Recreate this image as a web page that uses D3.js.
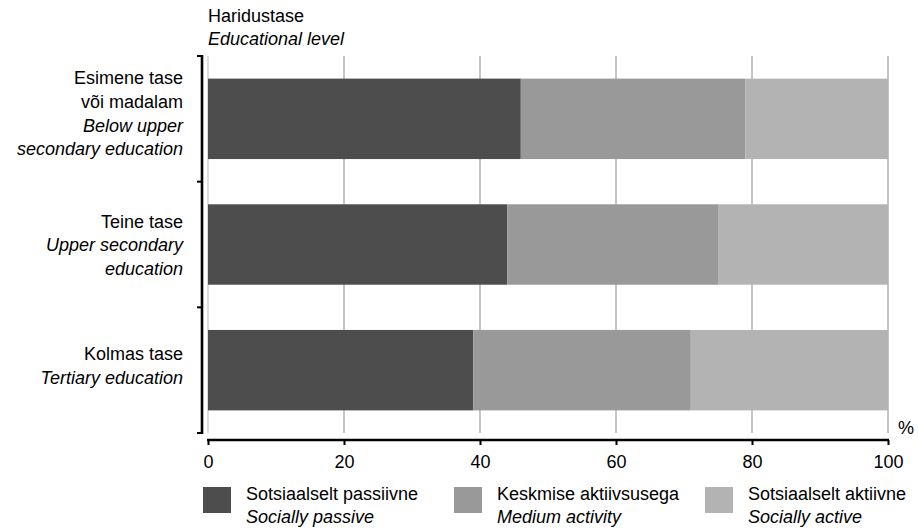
<!DOCTYPE html>
<html>
<head>
<meta charset="utf-8">
<script src="https://cdn.jsdelivr.net/npm/d3@7"></script>
<style>
  html, body { margin: 0; padding: 0; background: #fff; }
  svg { display: block; font-family: "Liberation Sans", Arial, sans-serif; }
</style>
</head>
<body>
<svg id="chart" width="918" height="529"></svg>
<script>
const categories = ["Esimene tase või madalam", "Teine tase", "Kolmas tase"];
const categoryLines = [
  [["Esimene tase", false], ["või madalam", false], ["Below upper", true], ["secondary education", true]],
  [["Teine tase", false], ["Upper secondary", true], ["education", true]],
  [["Kolmas tase", false], ["Tertiary education", true]]
];
const seriesKeys = ["passive", "medium", "active"];
const seriesNamesEt = ["Sotsiaalselt passiivne", "Keskmise aktiivsusega", "Sotsiaalselt aktiivne"];
const seriesNamesEn = ["Socially passive", "Medium activity", "Socially active"];
const seriesColors = ["#4d4d4d", "#999999", "#b3b3b3"];
const passive = [46, 44, 39];
const medium = [33, 31, 32];
const active = [21, 25, 29];
const xTicks = [0, 20, 40, 60, 80, 100];

const table = categories.map((c, i) => ({cat: c, passive: passive[i], medium: medium[i], active: active[i]}));

const svg = d3.select("#chart");
const fs = 18;

const x = d3.scaleLinear().domain([0, 100]).range([208, 888]);
const y = d3.scaleBand().domain(categories).range([56, 433]).paddingInner(0.36).paddingOuter(0.18);

// gridlines
svg.append("g").selectAll("line").data(xTicks).join("line")
  .attr("x1", d => x(d)).attr("x2", d => x(d))
  .attr("y1", 56).attr("y2", 433)
  .attr("stroke", d => d === 0 ? "#cccccc" : "#a8a8a8").attr("stroke-width", 1.3);

// bars
const stack = d3.stack().keys(seriesKeys)(table);
svg.append("g").selectAll("g").data(stack).join("g")
  .attr("fill", (d, i) => seriesColors[i])
  .selectAll("rect").data(d => d).join("rect")
  .attr("x", d => x(d[0]))
  .attr("width", d => x(d[1]) - x(d[0]))
  .attr("y", d => y(d.data.cat))
  .attr("height", y.bandwidth());

// y axis (band boundaries ticks)
const bounds = [56, 56 + (433 - 56) / 3, 56 + 2 * (433 - 56) / 3, 433];
svg.append("line").attr("x1", 202).attr("x2", 202).attr("y1", 55).attr("y2", 434)
  .attr("stroke", "#000").attr("stroke-width", 2.6);
svg.append("g").selectAll("line").data(bounds).join("line")
  .attr("x1", 197).attr("x2", 202).attr("y1", d => d).attr("y2", d => d)
  .attr("stroke", "#000").attr("stroke-width", 2);

// x axis
const xAxis = d3.axisBottom(x).tickValues(xTicks).tickSize(5).tickPadding(10).tickFormat(d3.format("d"));
const gx = svg.append("g").attr("transform", "translate(0,440)").call(xAxis);
gx.select(".domain").attr("stroke", "#000").attr("stroke-width", 2.6).attr("d", `M${x(0) - 1},0H${x(100) + 1}`);
gx.selectAll(".tick line").attr("stroke", "#000").attr("stroke-width", 2);
gx.selectAll(".tick text").attr("font-size", fs).attr("fill", "#000")
  .attr("font-family", "Liberation Sans, Arial, sans-serif").attr("dy", null).attr("y", 28);

svg.append("text").attr("x", 898).attr("y", 434).attr("font-size", fs).text("%");

// header
svg.append("text").attr("x", 208).attr("y", 22).attr("font-size", fs).text("Haridustase");
svg.append("text").attr("x", 208).attr("y", 45).attr("font-size", fs).attr("font-style", "italic").text("Educational level");

// category labels
const lh = 23.6;
const labelShift = [1, 6.6, 2];
categories.forEach((c, i) => {
  const lines = categoryLines[i];
  const cy = y(c) + y.bandwidth() / 2;
  const t = svg.append("text").attr("text-anchor", "end").attr("font-size", fs);
  lines.forEach((ln, j) => {
    t.append("tspan").attr("x", 183)
      .attr("y", cy + (j - (lines.length - 1) / 2) * lh + labelShift[i])
      .attr("font-style", ln[1] ? "italic" : "normal")
      .text(ln[0]);
  });
});

// legend
const lg = svg.append("g").selectAll("g").data(seriesKeys).join("g")
  .attr("transform", (d, i) => `translate(${203 + i * 251},0)`);
lg.append("rect").attr("x", 0).attr("y", 487).attr("width", 28).attr("height", 26)
  .attr("fill", (d, i) => seriesColors[i]);
lg.append("text").attr("x", 43).attr("y", 500).attr("font-size", fs).text((d, i) => seriesNamesEt[i]);
lg.append("text").attr("x", 43).attr("y", 523).attr("font-size", fs).attr("font-style", "italic").text((d, i) => seriesNamesEn[i]);
</script>
</body>
</html>
